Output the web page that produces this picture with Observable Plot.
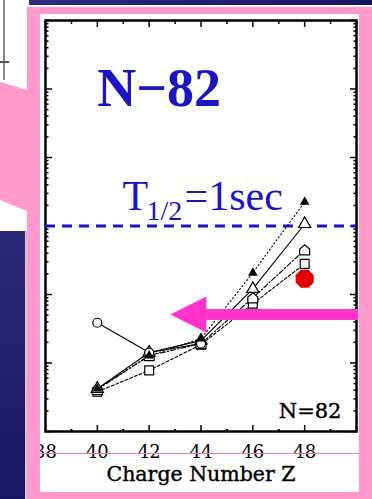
<!DOCTYPE html>
<html>
<head>
<meta charset="utf-8">
<script src="https://cdn.jsdelivr.net/npm/d3@7"></script>
<script src="https://cdn.jsdelivr.net/npm/@observablehq/plot@0.6"></script>
<style>
  html, body { margin: 0; padding: 0; background: #fff; }
  #slide { position: relative; width: 372px; height: 499px; overflow: hidden; background: #fff; }
  .abs { position: absolute; }
  .pink { background: #ff99cc; }
  #chart { position: absolute; left: 0; top: 0; z-index: 2; }
  .over { z-index: 3; }
</style>
</head>
<body>
<div id="slide">
  <!-- slide decoration -->
  <div class="abs" style="left:29px;top:0;width:343px;height:5px;background:linear-gradient(90deg,#2d2b80,#17145f);"></div>
  <div class="abs" style="left:3px;top:0;width:2px;height:80px;background:#8a8a8a;"></div>
  <div class="abs" style="left:0;top:61px;width:9px;height:2px;background:#555;"></div>
  <div class="abs pink" style="left:0;top:0;width:27px;height:240px;clip-path:polygon(0 82px,27px 90px,27px 211px,0 200px);"></div>
  <div class="abs" style="left:0;top:231px;width:25px;height:268px;background:linear-gradient(180deg,#2a2878,#1a1766);"></div>
  <div class="abs" style="left:25px;top:231px;width:2px;height:268px;background:#c9c9de;"></div>
  <div class="abs pink" style="left:27px;top:7px;width:345px;height:492px;"></div>
  <div class="abs" style="left:40px;top:14px;width:319px;height:478px;background:#fff;"></div>
  <div id="chart"></div>
  <div class="abs pink over" style="left:27px;top:7px;width:13px;height:492px;"></div>
  <div class="abs pink over" style="left:359px;top:7px;width:13px;height:492px;"></div>
  <div class="abs pink over" style="left:27px;top:7px;width:345px;height:7px;"></div>
  <div class="abs pink over" style="left:27px;top:492px;width:345px;height:7px;"></div>
  <div class="abs over" style="left:40px;top:453px;width:319px;height:1px;background:#ea7cba;"></div>
</div>
<script>
// Charge number Z of the N = 82 isotones
const zValues = [40, 42, 44, 46, 48];
// Half-lives T1/2 (s) from the different model calculations
const halfLifeDottedFilledTri = [0.0042, 0.0128, 0.0227, 0.207, 2.24];
const halfLifeSolidOpenTri    = [0.0042, 0.0142, 0.0212, 0.121, 1.07];
const halfLifeDashDotPentagon = [0.0041, 0.0128, 0.0192, 0.0895, 0.448];
const halfLifeDashedSquare    = [0.0038, 0.0078, 0.0185, 0.0732, 0.280];
const circleZ = [40, 42, 44];
const halfLifeCircle = [0.0387, 0.0142, 0.0192];
// Measured value (Cd-130)
const measuredZ = [48];
const measuredHalfLife = [0.17];
// Reference half-life line
const referenceHalfLife = [1];

// Axis ticks
const xTickLabels = [38, 40, 42, 44, 46, 48];
const xMajorTicks = [38, 40, 42, 44, 46, 48, 50];
const xMinorTicks = [39, 41, 43, 45, 47, 49];
const yMajorTicks = [1e-3, 1e-2, 1e-1, 1, 10, 100, 1000];
const yMinorTicks = d3.scaleLog().domain([1e-3, 1e3]).ticks().filter(v => !yMajorTicks.includes(v));

const rows = (zs, ts) => zs.map((z, i) => ({z, t: ts[i]}));

// custom marker shapes
const pentagon = {
  draw(ctx, size) {
    const r = Math.sqrt(size / Math.PI);
    ctx.moveTo(-r, r); ctx.lineTo(r, r); ctx.lineTo(r, -0.15 * r);
    ctx.lineTo(0, -r); ctx.lineTo(-r, -0.15 * r); ctx.closePath();
  }
};
const octagon = {
  draw(ctx, size) {
    const r = Math.sqrt(size / Math.PI);
    for (let i = 0; i < 8; i++) {
      const a = Math.PI / 8 + i * Math.PI / 4;
      const px = r * Math.cos(a), py = r * Math.sin(a);
      if (i === 0) ctx.moveTo(px, py); else ctx.lineTo(px, py);
    }
    ctx.closePath();
  }
};
// left-pointing arrow head with its tip at the anchor point
const arrowHead = {
  draw(ctx) {
    ctx.moveTo(0, 0); ctx.lineTo(36, -18); ctx.lineTo(36, 18); ctx.closePath();
  }
};

const serif = "'Liberation Serif', 'Times New Roman', serif";
const oldSerif = "'DejaVu Serif', serif";
const blue = "#1a14c6";
const magenta = "#ff33cc";

const seriesLine = (zs, ts, dash) => Plot.line(rows(zs, ts), {
  x: "z", y: "t", stroke: "black", strokeWidth: 1.1, strokeDasharray: dash
});
const seriesDots = (zs, ts, symbol, r, fill) => Plot.dot(rows(zs, ts), {
  x: "z", y: "t", symbol, r, fill, stroke: "black", strokeWidth: 1.2
});

const chart = Plot.plot({
  width: 372,
  height: 499,
  marginLeft: 45,
  marginRight: 16,
  marginTop: 20,
  marginBottom: 68,
  style: {background: "transparent", color: "black", overflow: "visible"},
  x: {domain: [38, 50], axis: null},
  y: {type: "log", domain: [1e-3, 1e3], axis: null},
  marks: [
    // inward tick marks on all four sides
    Plot.axisY({anchor: "left", ticks: yMajorTicks, tickSize: 7, dx: 7, strokeWidth: 1.5, tickFormat: () => "", label: null}),
    Plot.axisY({anchor: "left", ticks: yMinorTicks, tickSize: 3.5, dx: 3.5, strokeWidth: 1.5, tickFormat: () => "", label: null}),
    Plot.axisY({anchor: "right", ticks: yMajorTicks, tickSize: 7, dx: -7, strokeWidth: 1.5, tickFormat: () => "", label: null}),
    Plot.axisY({anchor: "right", ticks: yMinorTicks, tickSize: 3.5, dx: -3.5, strokeWidth: 1.5, tickFormat: () => "", label: null}),
    Plot.axisX({anchor: "top", ticks: xMajorTicks, tickSize: 6, dy: 6, strokeWidth: 1.5, tickFormat: () => "", label: null}),
    Plot.axisX({anchor: "top", ticks: xMinorTicks, tickSize: 3, dy: 3, strokeWidth: 1.5, tickFormat: () => "", label: null}),
    Plot.axisX({anchor: "bottom", ticks: xMajorTicks, tickSize: 6, dy: -6, strokeWidth: 1.5, tickFormat: () => "", label: null}),
    Plot.axisX({anchor: "bottom", ticks: xMinorTicks, tickSize: 2, dy: -2, strokeWidth: 2, tickFormat: () => "", label: null}),
    // bottom tick labels
    Plot.axisX({anchor: "bottom", ticks: xTickLabels, tickSize: 0, tickPadding: 14, fontSize: 18,
      fontFamily: oldSerif, stroke: "black", strokeWidth: 0.4, label: null}),
    Plot.frame({stroke: "black", strokeWidth: 2.5}),

    // T1/2 = 1 s reference
    Plot.ruleY(referenceHalfLife, {stroke: blue, strokeWidth: 3, strokeDasharray: "10,7"}),

    // model curves
    seriesLine(zValues, halfLifeDottedFilledTri, "1.2,2.6"),
    seriesLine(zValues, halfLifeSolidOpenTri, null),
    seriesLine(zValues, halfLifeDashDotPentagon, "5,2,1.5,2"),
    seriesLine(zValues, halfLifeDashedSquare, "3,2"),
    seriesLine(circleZ, halfLifeCircle, null),
    seriesDots(zValues, halfLifeDashedSquare, "square", 5, "white"),
    seriesDots(zValues, halfLifeDashDotPentagon, pentagon, 5, "white"),
    seriesDots(zValues, halfLifeSolidOpenTri, "triangle", 4.5, "white"),
    seriesDots(circleZ, halfLifeCircle, "circle", 4.5, "white"),
    seriesDots(zValues, halfLifeDottedFilledTri, "triangle", 2.8, "black"),

    // measured point
    Plot.dot(rows(measuredZ, measuredHalfLife), {x: "z", y: "t", symbol: octagon, r: 9, fill: "#e20000", stroke: "#e20000"}),

    // labels
    Plot.text([{z: 40, t: 100}], {x: "z", y: "t", text: () => "N\u221282", textAnchor: "start",
      lineAnchor: "middle", fontFamily: serif, fontWeight: "bold", fontSize: 54, fill: blue}),
    Plot.text([{z: 40.97, t: 2.73}], {x: "z", y: "t", text: () => "T", textAnchor: "start",
      lineAnchor: "middle", fontFamily: serif, fontSize: 42, fill: blue}),
    Plot.text([{z: 40.97, t: 2.73}], {x: "z", y: "t", text: () => "1/2", textAnchor: "start",
      lineAnchor: "middle", dx: 24, dy: 14.7, fontFamily: serif, fontSize: 28, fill: blue}),
    Plot.text([{z: 40.97, t: 2.73}], {x: "z", y: "t", text: () => "=1sec", textAnchor: "start",
      lineAnchor: "middle", dx: 62, fontFamily: serif, fontSize: 42, fill: blue}),
    Plot.text([{z: 47, t: 0.002}], {x: "z", y: "t", text: () => "N=82", textAnchor: "start",
      lineAnchor: "middle", fontFamily: oldSerif, fontSize: 21, fill: "black", stroke: "black", strokeWidth: 0.4}),
    Plot.text(["Charge Number Z"], {frameAnchor: "bottom", dy: 43, lineAnchor: "middle",
      fontFamily: oldSerif, fontSize: 20.5, fill: "black", stroke: "black", strokeWidth: 0.4}),

    // pointer arrow
    Plot.ruleY([{z1: 43.6, z2: 50.09, t: 0.051}], {x1: "z1", x2: "z2", y: "t", stroke: magenta, strokeWidth: 11}),
    Plot.dot([{z: 42.82, t: 0.051}], {x: "z", y: "t", symbol: arrowHead, fill: magenta, stroke: "none"})
  ]
});

document.getElementById("chart").appendChild(chart);
</script>
</body>
</html>
